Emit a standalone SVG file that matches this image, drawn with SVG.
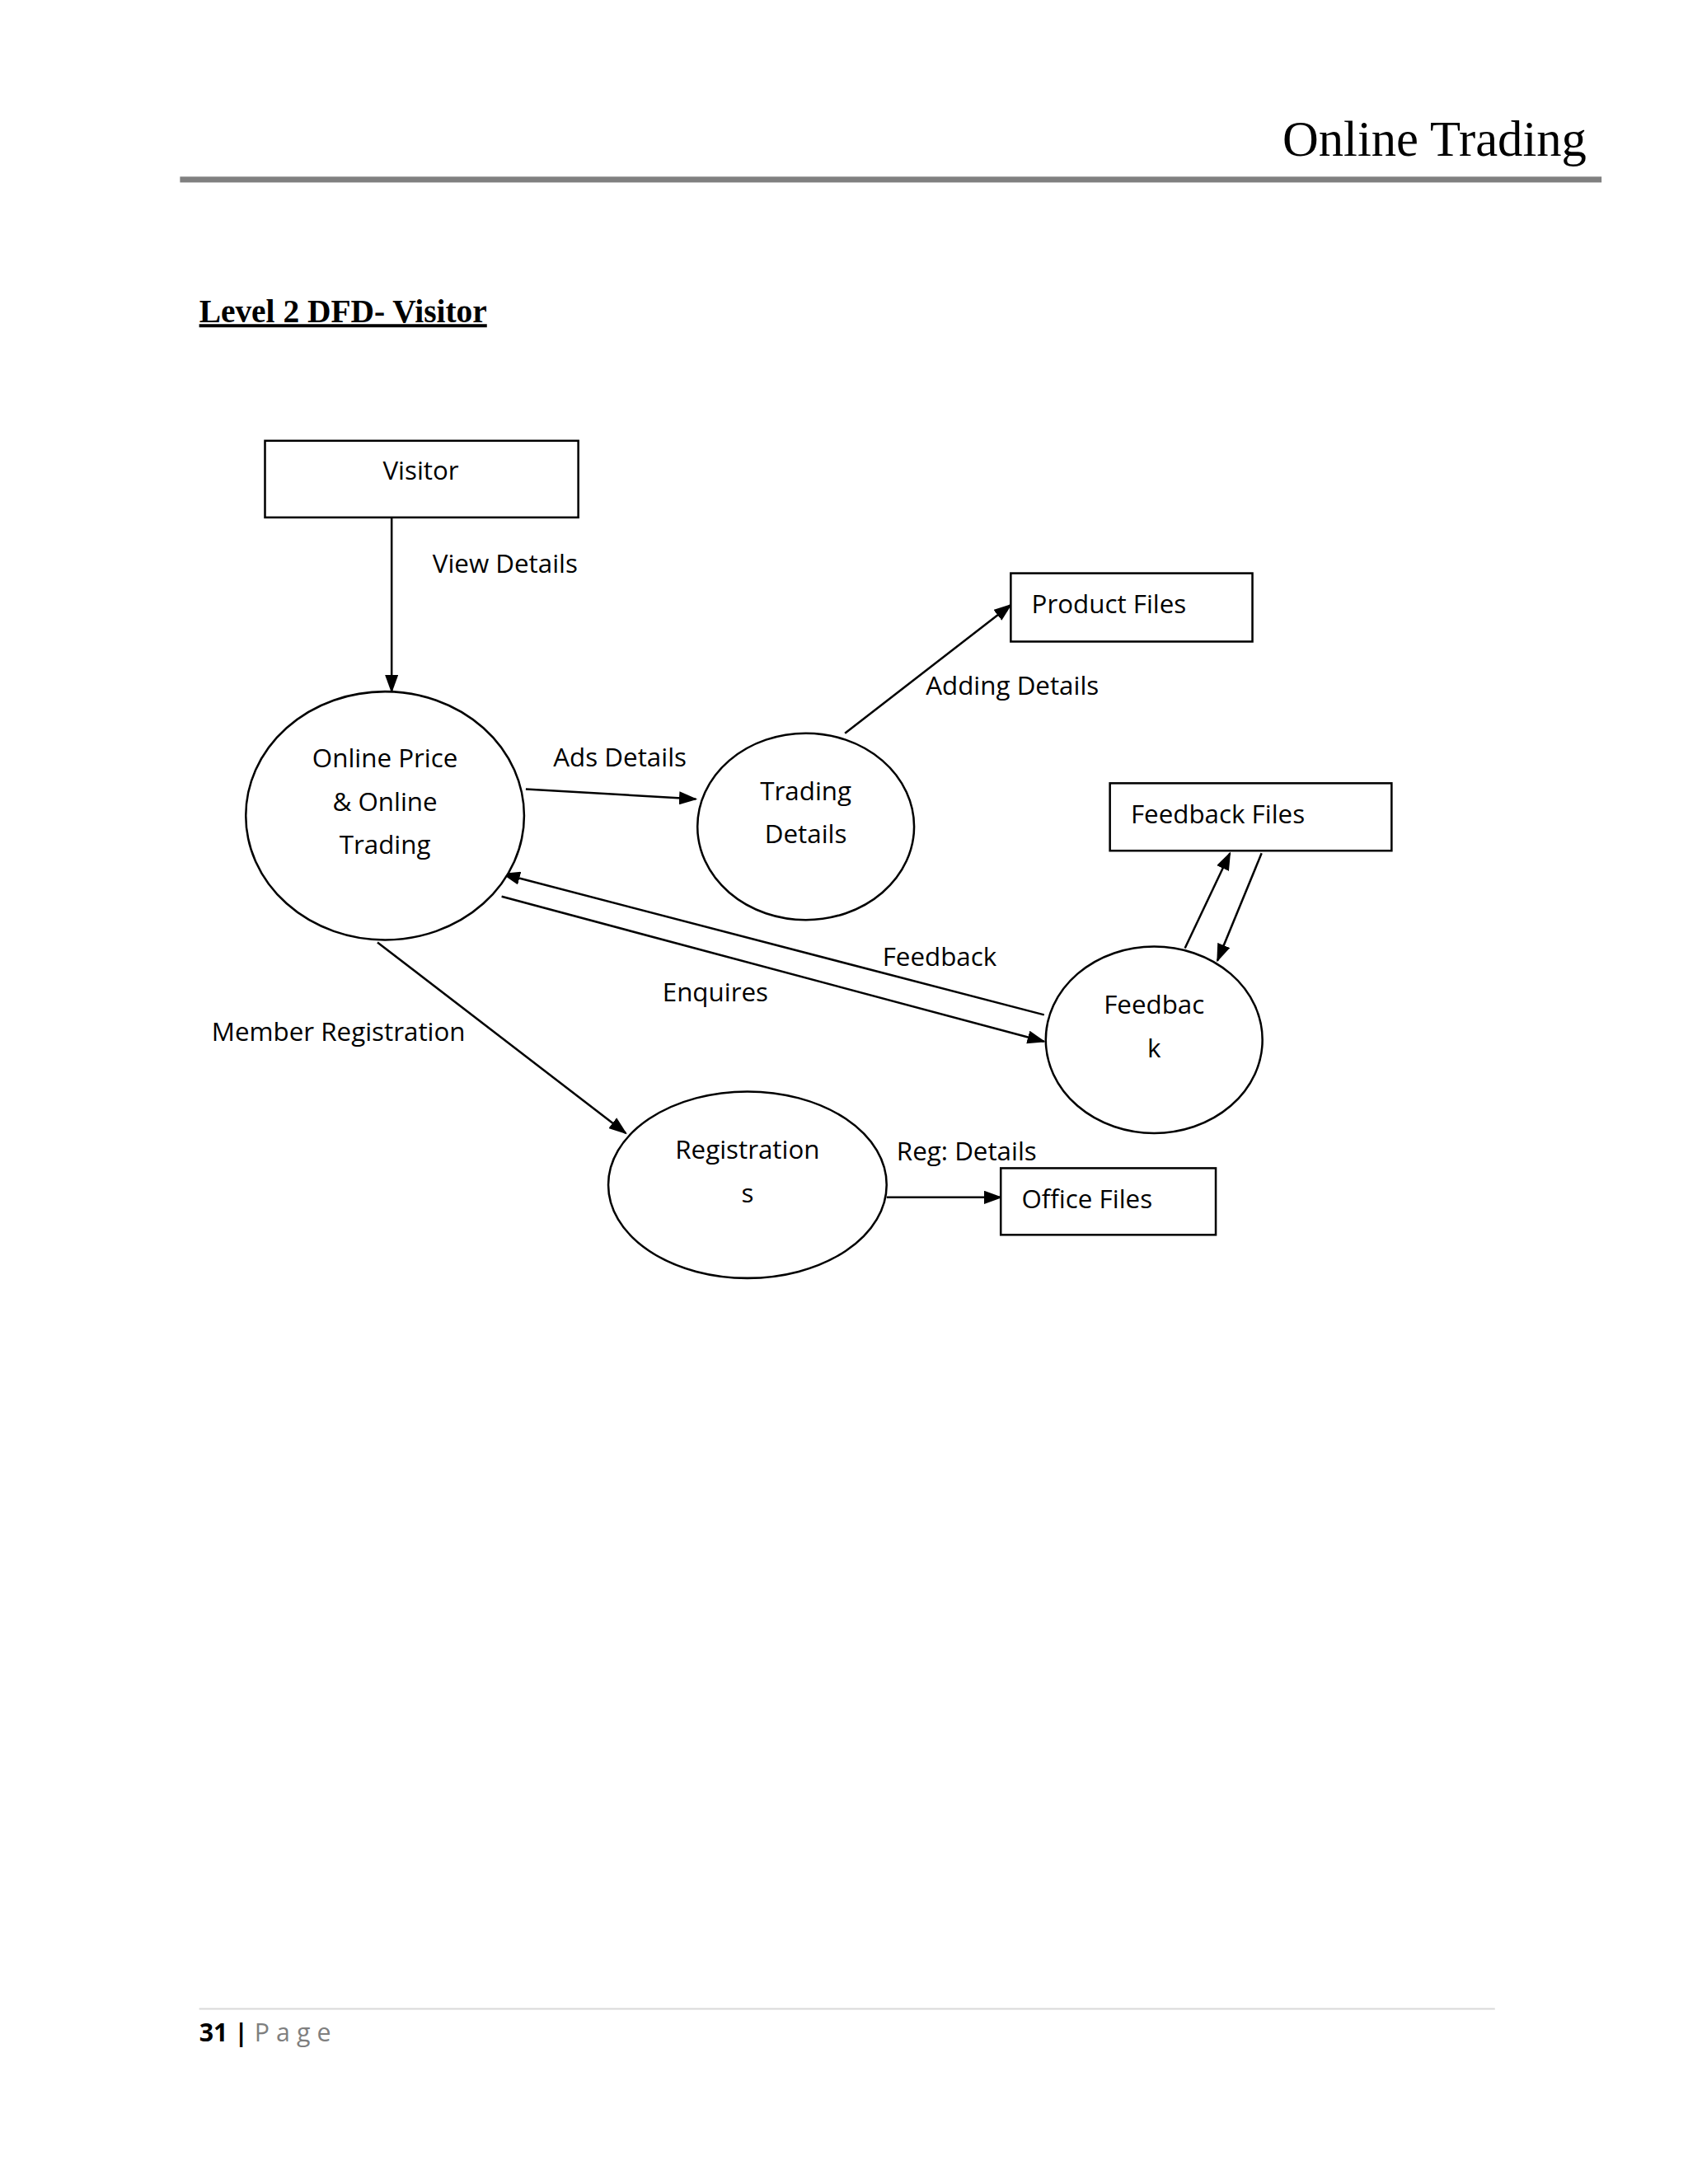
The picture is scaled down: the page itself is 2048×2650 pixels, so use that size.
<svg xmlns="http://www.w3.org/2000/svg" width="2048" height="2650" viewBox="0 0 2048 2650">
<defs>
<marker id="ah2" markerWidth="22" markerHeight="16" refX="20" refY="8" orient="auto" markerUnits="userSpaceOnUse" viewBox="0 0 22 16"><path d="M0,0 L22,8 L0,16 z" fill="#000"/></marker>
<style>
.s{fill:#fff;stroke:#000;stroke-width:2.5}
.t{font-family:"Open Sans","Liberation Sans",sans-serif;font-size:31px;fill:#000}
.c{text-anchor:middle}
.l{stroke:#000;stroke-width:2.5;fill:none;marker-end:url(#ah2)}
</style>
</defs>
<rect width="2048" height="2650" fill="#fff"/>
<g transform="scale(1.011)">
<text x="1904" y="187" text-anchor="end" font-family="Liberation Serif,serif" font-size="60">Online Trading</text>
<rect x="216" y="212" width="1706" height="7" fill="#808080"/>
<text x="239" y="387" font-family="Liberation Serif,serif" font-size="39" font-weight="bold" text-decoration="underline">Level 2 DFD- Visitor</text>
<g id="connectors">
<line class="l" x1="470" y1="621" x2="470" y2="830"/>
<line class="l" x1="631" y1="947" x2="835" y2="959"/>
<line class="l" x1="1014" y1="880" x2="1213" y2="726"/>
<line class="l" x1="1422" y1="1138" x2="1476" y2="1024"/>
<line class="l" x1="1514" y1="1024" x2="1461" y2="1153"/>
<line class="l" x1="1253" y1="1218" x2="604" y2="1049"/>
<line class="l" x1="602" y1="1076" x2="1253" y2="1250"/>
<line class="l" x1="453" y1="1131" x2="751" y2="1360"/>
<line class="l" x1="1064" y1="1437" x2="1201" y2="1437"/>
<text class="t" x="519" y="687">View Details</text>
<text class="t" x="664" y="920">Ads Details</text>
<text class="t" x="1111" y="834">Adding Details</text>
<text class="t" x="1059" y="1159">Feedback</text>
<text class="t" x="795" y="1202">Enquires</text>
<text class="t" x="254" y="1249">Member Registration</text>
<text class="t" x="1076" y="1393">Reg: Details</text>
</g>
<g id="visitor"><rect class="s" x="318" y="529" width="376" height="92"/><text class="t c" x="505" y="576">Visitor</text></g>
<g id="online"><ellipse class="s" cx="462" cy="979" rx="167" ry="149"/><text class="t c" x="462" y="921">Online Price</text><text class="t c" x="462" y="973">&amp; Online</text><text class="t c" x="462" y="1025">Trading</text></g>
<g id="trading"><ellipse class="s" cx="967" cy="992" rx="130" ry="112"/><text class="t c" x="967" y="960">Trading</text><text class="t c" x="967" y="1012">Details</text></g>
<g id="product"><rect class="s" x="1213" y="688" width="290" height="82"/><text class="t" x="1238" y="736">Product Files</text></g>
<g id="ffiles"><rect class="s" x="1332" y="940" width="338" height="81"/><text class="t" x="1357" y="988">Feedback Files</text></g>
<g id="feedback"><ellipse class="s" cx="1385" cy="1248" rx="130" ry="112"/><text class="t c" x="1385" y="1217">Feedbac</text><text class="t c" x="1385" y="1269">k</text></g>
<g id="reg"><ellipse class="s" cx="897" cy="1422" rx="167" ry="112"/><text class="t c" x="897" y="1391">Registration</text><text class="t c" x="897" y="1443">s</text></g>
<g id="office"><rect class="s" x="1201" y="1402" width="258" height="80"/><text class="t" x="1226" y="1450">Office Files</text></g>
<line x1="239" y1="2411" x2="1794" y2="2411" stroke="#d9d9d9" stroke-width="2"/>
<text x="239" y="2450" font-family="Open Sans,Liberation Sans,sans-serif" font-size="30"><tspan font-weight="bold">31 | </tspan><tspan fill="#7f7f7f" letter-spacing="8">Page</tspan></text>
</g>
</svg>
